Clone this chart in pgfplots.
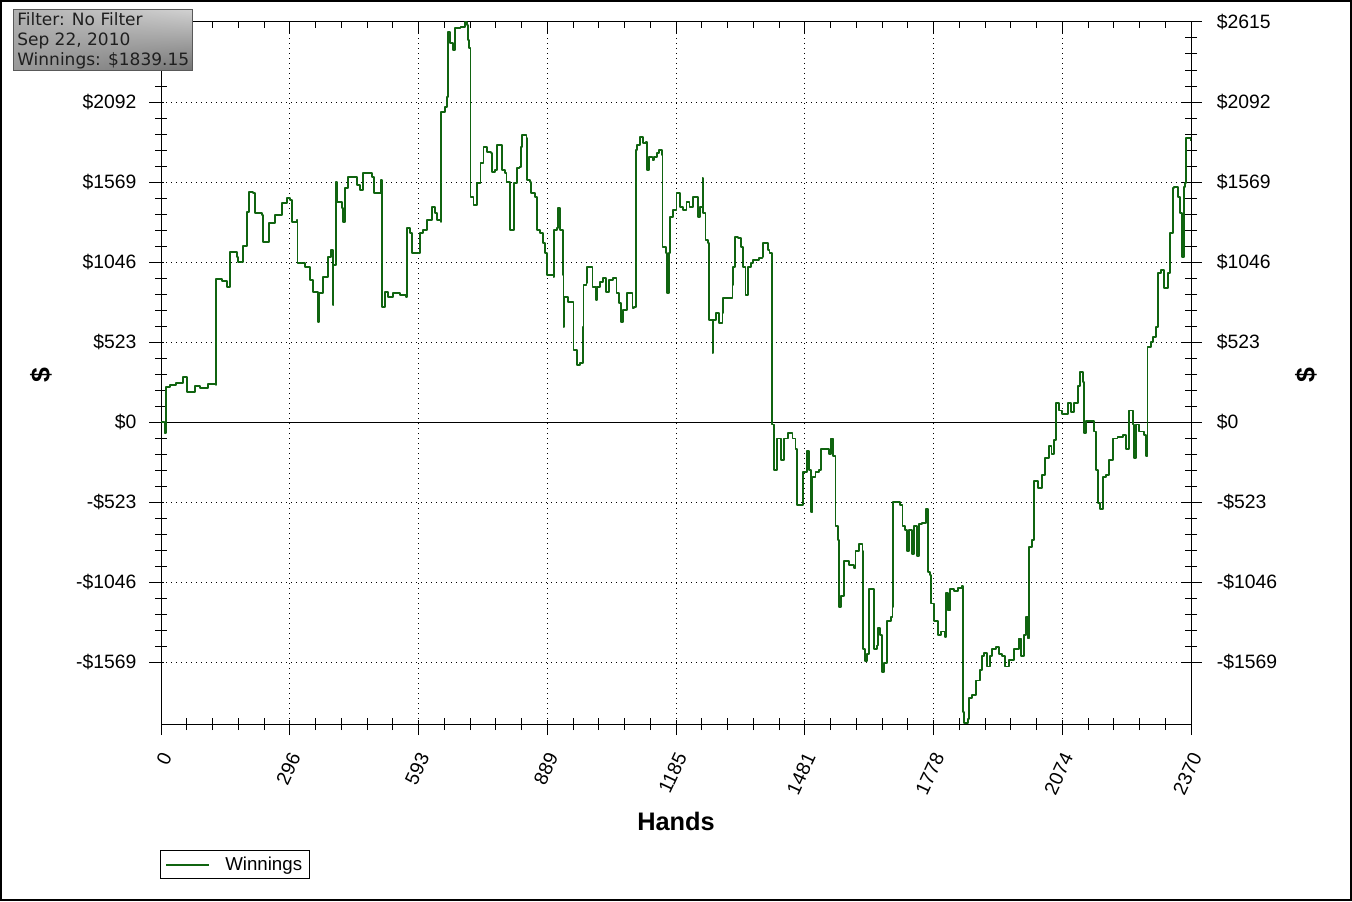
\documentclass[border=0pt]{standalone}
\usepackage{pgfplots}
\pgfplotsset{compat=1.18}
\usetikzlibrary{shadings}
\usepackage{fontspec}
\setmainfont{Liberation Sans}
\newfontfamily\verdana{DejaVu Sans}
\definecolor{wingreen}{RGB}{16,100,16}
\pgfplotsset{
  base/.style={
    at={(120.75pt,132.75pt)}, anchor=south west,
    scale only axis, width=772.5pt, height=526.5pt,
    xmin=0, xmax=2370, ymin=-1974, ymax=2615,
    xtick={0,296.25,592.5,888.75,1185,1481.25,1777.5,2073.75,2370},
    ytick={-1569,-1046,-523,0,523,1046,1569,2092,2615},
    minor tick num=4,
    axis line style={black, line width=0.75pt},
    every tick/.style={black, line width=0.75pt},
    /pgf/number format/assume math mode=true,
    tick label style={font=\fontsize{14.5}{16}\selectfont},
  }
}
\begin{document}
\begin{tikzpicture}
\useasboundingbox (0,0) rectangle (1014pt,675.75pt);
\fill[white] (0,0) rectangle (1014pt,675.75pt);
\draw[black,line width=1.5pt] (0.75pt,0.75pt) rectangle (1013.25pt,675pt);

% top axis (ticks only)
\begin{axis}[base,
  axis x line*=top, axis y line=none,
  tick align=inside, major tick length=9pt, minor tick length=4.5pt,
  xticklabels={}]
\end{axis}

% right axis
\begin{axis}[base,
  axis x line=none, axis y line*=right,
  tick align=center, major tick length=15.75pt, minor tick length=9pt,
  yticklabels={-\$1569,-\$1046,-\$523,\$0,\$523,\$1046,\$1569,\$2092,\$2615},
  yticklabel style={anchor=west, xshift=8pt},
  ylabel={\$},
  ylabel style={font=\bfseries\fontsize{20}{22}\selectfont, at={(1.1117,0.497)}, anchor=center}]
\end{axis}

% main axis
\begin{axis}[base,
  axis x line*=bottom, axis y line*=left,
  tick align=outside, major tick length=11.25pt, minor tick length=9pt,
  minor x tick style={yshift=4.5pt},
  minor y tick style={xshift=4.5pt},
  major x tick style={yshift=3pt},
  major y tick style={xshift=2.25pt},
  grid=major,
  major grid style={black, line width=0.75pt, dash pattern=on 0.75pt off 3pt},
  xticklabels={0,296,593,889,1185,1481,1778,2074,2370},
  xticklabel style={xshift=5.6pt, yshift=-8.25pt, rotate=65, anchor=east},
  yticklabels={-\$1569,-\$1046,-\$523,\$0,\$523,\$1046,\$1569,\$2092,{}},
  yticklabel style={anchor=east, xshift=-3.75pt},
  xlabel={Hands},
  xlabel style={font=\bfseries\fontsize{19}{22}\selectfont, at={(0.5,-0.1524)}, anchor=base},
  ylabel={\$},
  ylabel style={font=\bfseries\fontsize{20}{22}\selectfont, at={(-0.1165,0.497)}, anchor=center},
  legend style={at={(-0.001,-0.1795)}, anchor=north west, draw=black, line width=0.75pt,
    font=\fontsize{14}{16}\selectfont, inner xsep=3.5pt, inner ysep=2.75pt},
  legend image code/.code={\draw[#1] (0pt,0pt) -- (32pt,0pt);},
]
\draw[black, line width=0.75pt] (axis cs:0,0) -- (axis cs:2370,0);
\addplot[wingreen, line width=1.4pt, const plot, line join=round] coordinates {
(0,0) (8,-72) (11,229) (21,242) (35,255) (50,294) (60,196) (78,235) (90,222) (108,248) (126,242) (127,935) (140,922) (151,883) (157,883) (158,1111) (174,1079) (177,1046) (189,1151) (197,1373) (203,1504) (212,1497) (217,1366) (233,1353) (235,1177) (246,1177) (249,1301) (263,1353) (279,1432) (290,1464) (297,1451) (302,1308) (313,1321) (314,1039) (332,1013) (343,928) (350,850) (362,654) (364,843) (373,948) (385,1079) (392,1124) (396,765) (397,1026) (403,1569) (405,1438) (417,1399) (419,1308) (424,1530) (431,1602) (451,1549) (458,1517) (465,1628) (486,1602) (491,1497) (504,1497) (507,1582) (509,752) (516,850) (523,817) (534,843) (550,830) (564,817) (566,1268) (573,1236) (577,1105) (589,1105) (596,1236) (603,1255) (613,1321) (624,1406) (631,1366) (636,1321) (644,1308) (645,2027) (654,2059) (658,2125) (660,2550) (664,2478) (672,2432) (677,2576) (689,2582) (700,2615) (704,2595) (707,2497) (709,2445) (712,1471) (719,1419) (728,1562) (735,1693) (742,1798) (751,1765) (760,1759) (762,1634) (769,1647) (774,1811) (783,1811) (785,1647) (792,1628) (795,1569) (802,1569) (804,1255) (811,1255) (813,1562) (820,1661) (825,1667) (829,1798) (831,1876) (841,1857) (843,1582) (850,1569) (852,1497) (861,1471) (866,1255) (873,1236) (878,1170) (884,1105) (889,961) (903,948) (905,1255) (912,1268) (914,1399) (919,1255) (924,961) (926,621) (928,817) (937,785) (947,785) (949,471) (958,373) (965,386) (970,621) (972,896) (979,909) (981,1013) (988,1013) (993,883) (1000,798) (1004,883) (1011,915) (1018,941) (1023,850) (1030,928) (1041,941) (1048,843) (1053,778) (1059,654) (1064,732) (1073,843) (1080,843) (1085,745) (1089,752) (1092,1778) (1096,1811) (1103,1863) (1110,1824) (1115,1831) (1119,1647) (1122,1732) (1131,1713) (1135,1732) (1142,1759) (1145,1778) (1152,1746) (1154,1144) (1161,1105) (1165,843) (1168,1105) (1172,1340) (1179,1386) (1186,1497) (1195,1406) (1202,1386) (1209,1438) (1216,1406) (1225,1471) (1235,1340) (1241,1406) (1246,1595) (1248,1366) (1253,1190) (1258,1170) (1260,667) (1269,451) (1271,667) (1278,713) (1283,647) (1292,713) (1294,811) (1306,811) (1315,896) (1317,1013) (1320,1209) (1327,1203) (1334,1144) (1340,1013) (1345,830) (1350,1013) (1357,1039) (1363,1059) (1375,1072) (1384,1079) (1386,1170) (1396,1124) (1400,1105) (1405,-16) (1410,-314) (1418,-108) (1426,-246) (1433,-108) (1442,-74) (1453,-108) (1460,-177) (1464,-544) (1473,-544) (1478,-326) (1486,-292) (1487,-188) (1491,-314) (1495,-590) (1499,-360) (1506,-326) (1514,-314) (1519,-177) (1529,-177) (1537,-211) (1542,-108) (1547,-222) (1552,-681) (1558,-773) (1560,-1209) (1564,-1140) (1571,-911) (1583,-934) (1594,-956) (1598,-842) (1606,-796) (1614,-842) (1616,-1484) (1619,-1564) (1625,-1518) (1629,-1094) (1637,-1094) (1641,-1484) (1647,-1461) (1650,-1346) (1654,-1392) (1658,-1633) (1664,-1576) (1670,-1300) (1679,-1277) (1683,-1209) (1685,-520) (1694,-520) (1700,-544) (1706,-681) (1711,-704) (1716,-842) (1721,-704) (1729,-865) (1733,-681) (1739,-876) (1744,-669) (1752,-658) (1760,-567) (1764,-979) (1770,-1002) (1771,-1186) (1779,-1300) (1787,-1392) (1794,-1369) (1803,-1404) (1806,-1117) (1811,-1232) (1816,-1094) (1825,-1105) (1833,-1083) (1843,-1071) (1845,-1897) (1848,-1965) (1856,-1942) (1859,-1805) (1867,-1782) (1875,-1690) (1885,-1621) (1890,-1530) (1894,-1507) (1900,-1598) (1908,-1530) (1913,-1484) (1921,-1472) (1928,-1518) (1936,-1530) (1942,-1598) (1951,-1553) (1963,-1484) (1974,-1415) (1978,-1530) (1986,-1392) (1990,-1277) (1994,-1415) (1998,-818) (2005,-773) (2009,-383) (2018,-429) (2028,-348) (2034,-234) (2044,-154) (2049,-211) (2055,-120) (2059,122) (2067,75) (2074,52) (2086,122) (2094,64) (2101,122) (2109,236) (2115,328) (2121,259) (2123,-74) (2128,7) (2140,7) (2146,-62) (2151,-314) (2155,-532) (2161,-567) (2167,-360) (2174,-348) (2182,-246) (2190,-108) (2201,-97) (2213,-85) (2220,-177) (2228,75) (2236,-16) (2239,-234) (2243,-16) (2251,-62) (2262,-85) (2266,-222) (2270,488) (2278,523) (2282,556) (2289,621) (2294,974) (2301,994) (2308,876) (2317,974) (2322,1236) (2328,1530) (2331,1536) (2340,1471) (2345,1366) (2349,1079) (2354,1536) (2356,1562) (2358,1857) (2370,1839.15)
};
\addlegendentry{\hspace{9.75pt}Winnings\hspace{1.5pt}}
\end{axis}

% info box
\shadedraw[draw=black!65, line width=0.75pt, upper left=black!30, upper right=black!18, lower left=black!40, lower right=black!55]
  (10.25pt,622.5pt) rectangle (144pt,668.75pt);
\begin{scope}[every node/.style={anchor=base west, inner sep=0pt, text=black!88, font=\verdana\fontsize{12.75}{15}\selectfont}]
\node at (12.75pt,656.25pt) {Filter: No Filter};
\node at (12.75pt,641.25pt) {Sep 22, 2010};
\node at (12.75pt,626.25pt) {Winnings: \$1839.15};
\end{scope}
\end{tikzpicture}
\end{document}
